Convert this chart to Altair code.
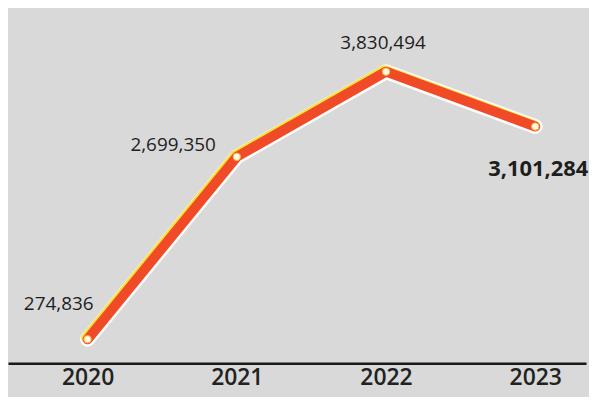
import altair as alt
import pandas as pd

years = [2020, 2021, 2022, 2023]
values = [274836, 2699350, 3830494, 3101284]
labels = ["274,836", "2,699,350", "3,830,494", "3,101,284"]

df = pd.DataFrame({"year": years, "value": values, "label": labels})

xs = alt.Scale(domain=[2019.467, 2023.34], nice=False, zero=False)
ys = alt.Scale(domain=[-42400, 4662900], nice=False, zero=False)

base = alt.Chart(df).encode(
    x=alt.X("year:Q", scale=xs,
            axis=alt.Axis(values=years, format="d", title=None, grid=False,
                          ticks=False, domain=True, domainColor="#1a1a1a",
                          domainWidth=2.5, labelFont="Open Sans",
                          labelFontWeight=600, labelFontSize=23,
                          labelColor="#222222", labelPadding=3)),
    y=alt.Y("value:Q", scale=ys, axis=None),
)

halo = base.mark_line(color="white", strokeWidth=15, strokeCap="round",
                      strokeJoin="round", opacity=0.9)
yellow = base.mark_line(color="#f7e13a", strokeWidth=10, strokeCap="round",
                        strokeJoin="round", xOffset=-1.5, yOffset=-1.5)
red = base.mark_line(color="#f04a26", strokeWidth=10, strokeCap="round",
                     strokeJoin="round")
pts = base.mark_point(filled=True, fill="#fffbe6", stroke="#f5b23a",
                      strokeWidth=1, size=55, opacity=1)

offsets = [(-29, -35), (-64, -12), (-3, -29), (3, 43)]
texts = []
for i, (dx, dy) in enumerate(offsets):
    bold = i == 3
    t = base.transform_filter(alt.datum.year == years[i]).mark_text(
        dx=dx, dy=dy,
        font="Open Sans",
        fontSize=22 if bold else 19,
        fontWeight="bold" if bold else "normal",
        color="#1e1e1e", align="center", baseline="middle",
    ).encode(text="label:N")
    texts.append(t)

chart = alt.layer(halo, yellow, red, pts, *texts).properties(
    width=581, height=356,
    padding={"left": 0, "top": 0, "right": 0, "bottom": 7},
    background="#d9d9d9"
).configure_view(stroke=None, fill="#d9d9d9")

chart.save("out.html", embed_options={"renderer": "svg", "actions": False})
